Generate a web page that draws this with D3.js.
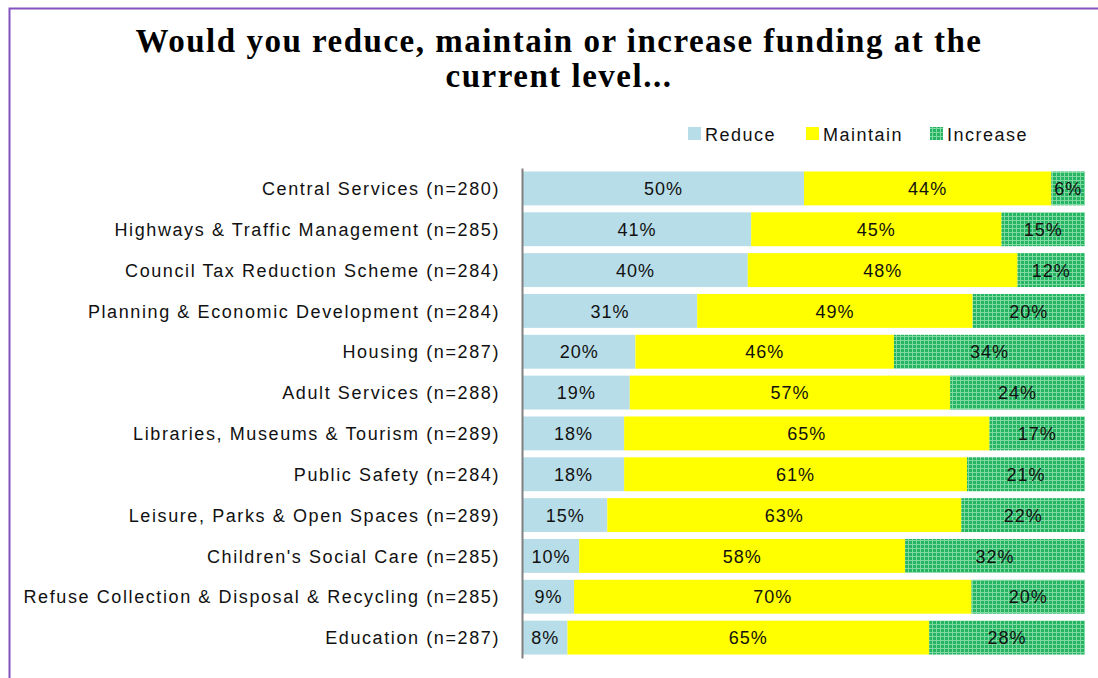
<!DOCTYPE html>
<html>
<head>
<meta charset="utf-8">
<script src="https://cdn.jsdelivr.net/npm/d3@7/dist/d3.min.js"></script>
<style>
  html, body { margin: 0; padding: 0; background: #fff; }
  svg { display: block; }
</style>
</head>
<body>
<svg id="chart" width="1098" height="678"></svg>
<script>
// Survey: funding preference by service area
const categories = [
  "Central Services (n=280)",
  "Highways & Traffic Management (n=285)",
  "Council Tax Reduction Scheme (n=284)",
  "Planning & Economic Development (n=284)",
  "Housing (n=287)",
  "Adult Services (n=288)",
  "Libraries, Museums & Tourism (n=289)",
  "Public Safety (n=284)",
  "Leisure, Parks & Open Spaces (n=289)",
  "Children's Social Care (n=285)",
  "Refuse Collection & Disposal & Recycling (n=285)",
  "Education (n=287)"
];
const reduce   = [50, 41, 40, 31, 20, 19, 18, 18, 15, 10, 9, 8];
const maintain = [44, 45, 48, 49, 46, 57, 65, 61, 63, 58, 70, 65];
const increase = [6, 15, 12, 20, 34, 24, 17, 21, 22, 32, 20, 28];
const seriesNames = ["Reduce", "Maintain", "Increase"];

const rows = categories.map((c, i) => {
  const total = reduce[i] + maintain[i] + increase[i];
  return { cat: c, Reduce: reduce[i] / total, Maintain: maintain[i] / total, Increase: increase[i] / total,
           raw: { Reduce: reduce[i], Maintain: maintain[i], Increase: increase[i] } };
});

const sans = "'Liberation Sans', Arial, sans-serif";
const svg = d3.select("#chart");

// Outer frame
svg.append("rect").attr("x", 9.5).attr("y", 8.5).attr("width", 1100).attr("height", 700)
  .attr("fill", "none").attr("stroke", "#8452bf").attr("stroke-width", 2);

// Checked pattern for the "Increase" segments
const defs = svg.append("defs");
const pat = defs.append("pattern").attr("id", "checks").attr("patternUnits", "userSpaceOnUse")
  .attr("width", 4).attr("height", 4);
pat.append("rect").attr("width", 4).attr("height", 4).attr("fill", "#25b461");
pat.append("rect").attr("x", 0).attr("y", 0).attr("width", 4).attr("height", 1).attr("fill", "#80d8a2");
pat.append("rect").attr("x", 0).attr("y", 0).attr("width", 1).attr("height", 4).attr("fill", "#80d8a2");

const fills = { Reduce: "#b7dde8", Maintain: "#ffff00", Increase: "url(#checks)" };

// Title
const title = svg.append("text").attr("text-anchor", "middle")
  .attr("font-family", "'Liberation Serif', 'DejaVu Serif', serif")
  .attr("font-weight", "bold").attr("font-size", 33).attr("letter-spacing", 1.5).attr("fill", "#000");
title.append("tspan").attr("x", 559).attr("y", 52).text("Would you reduce, maintain or increase funding at the");
title.append("tspan").attr("x", 559).attr("y", 87).text("current level...");

const x = d3.scaleLinear().domain([0, 1]).range([523, 1085]);
const y = d3.scaleBand().domain(categories).range([168, 658]).paddingInner(0.17).paddingOuter(0.085);

const stacked = d3.stack().keys(seriesNames)(rows);

const g = svg.append("g");
stacked.forEach(layer => {
  const key = layer.key;
  g.selectAll(null).data(layer).join("rect")
    .attr("x", d => x(d[0]))
    .attr("y", d => y(d.data.cat))
    .attr("width", d => x(d[1]) - x(d[0]))
    .attr("height", y.bandwidth())
    .attr("fill", fills[key]);
  g.selectAll(null).data(layer).join("text")
    .attr("x", d => (x(d[0]) + x(d[1])) / 2)
    .attr("y", d => y(d.data.cat) + y.bandwidth() / 2)
    .attr("dy", "0.37em")
    .attr("text-anchor", "middle")
    .attr("font-family", sans)
    .attr("font-size", 18)
    .attr("letter-spacing", 1)
    .attr("fill", "#111")
    .text(d => d.data.raw[key] + "%");
});

// Category axis
const axis = d3.axisLeft(y).tickSize(0).tickPadding(22);
const ag = svg.append("g").attr("transform", "translate(522,0)").call(axis);
ag.select(".domain").attr("stroke", "#808080").attr("stroke-width", 2);
ag.selectAll("text").attr("font-family", sans).attr("dy", "0.37em")
  .attr("font-size", 18).attr("letter-spacing", 1.6).attr("fill", "#111");

// Legend
const legendX = [688, 806, 930];
const lg = svg.append("g");
seriesNames.forEach((s, i) => {
  lg.append("rect").attr("x", legendX[i]).attr("y", 127).attr("width", 13).attr("height", 13).attr("fill", fills[s]);
  lg.append("text").attr("x", legendX[i] + 17).attr("y", 141)
    .attr("font-family", sans).attr("font-size", 18).attr("letter-spacing", 1.5).attr("fill", "#111")
    .text(s);
});
</script>
</body>
</html>
